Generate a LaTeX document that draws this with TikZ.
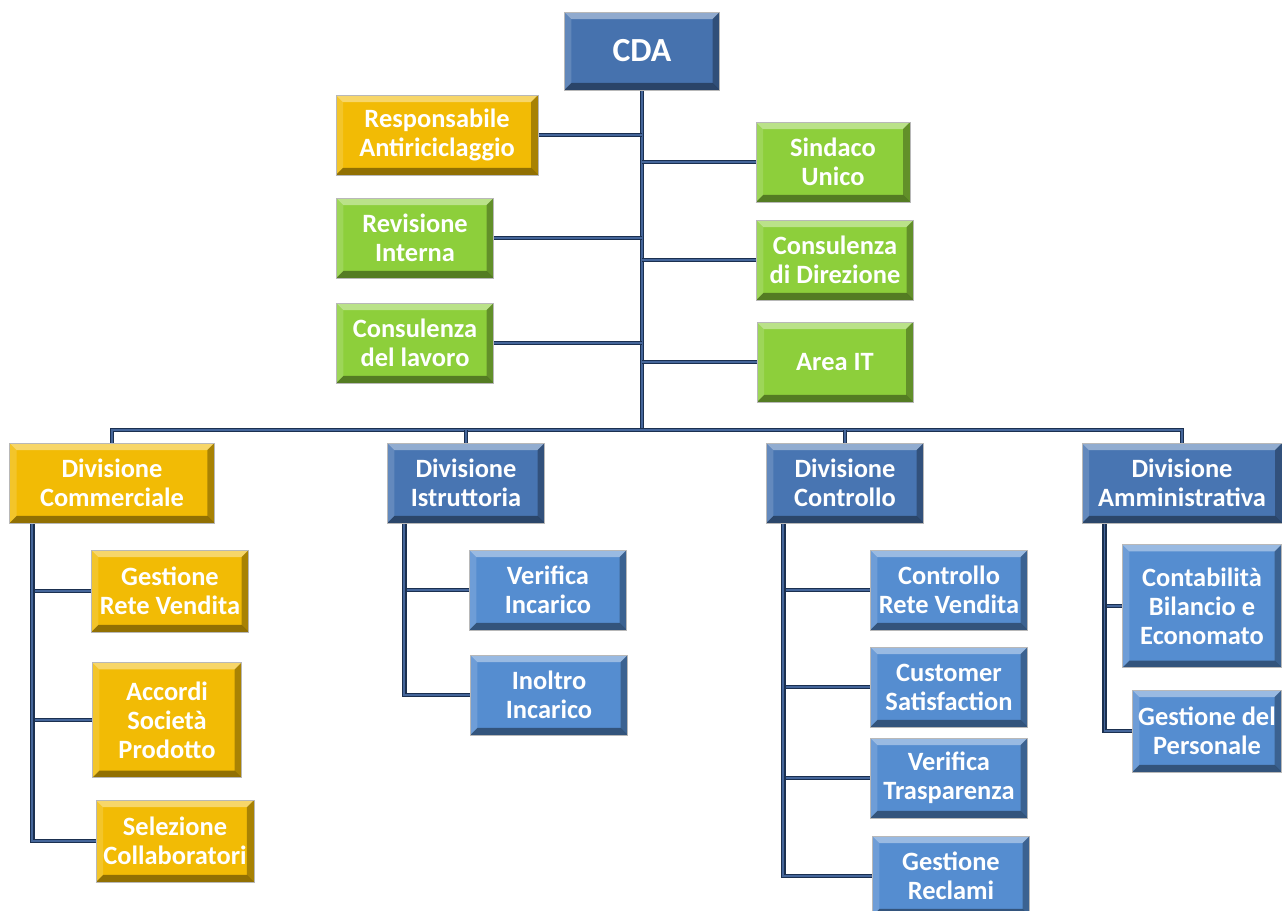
\documentclass[tikz,border=0pt]{standalone}
\usepackage{fontspec}
\setmainfont{Carlito}
\usetikzlibrary{positioning, backgrounds}

\definecolor{cdablue}{HTML}{4672AE}
\definecolor{divblue}{HTML}{4875B2}
\definecolor{subblue}{HTML}{558DD0}
\definecolor{gold}{HTML}{F2BB05}
\definecolor{lime}{HTML}{8DCF3B}
\definecolor{navy}{HTML}{1B3050}
\definecolor{steel}{HTML}{45669A}

\begin{document}
\begin{tikzpicture}[
    x=0.025cm, y=-0.025cm,
    font=\bfseries\fontsize{18.8}{20.6}\selectfont,
    box/.style={
        rectangle, draw=black!28, line width=0.6pt, text=white,
        minimum width=3.93cm, minimum height=2cm,
        align=center, inner sep=2pt, outer sep=0pt,
        path picture={
            \fill[white, opacity=0.4] (path picture bounding box.north west)
                -- (path picture bounding box.north east)
                -- ([shift={(-5pt,-5pt)}]path picture bounding box.north east)
                -- ([shift={(5pt,-5pt)}]path picture bounding box.north west) -- cycle;
            \fill[white, opacity=0.15] (path picture bounding box.north west)
                -- (path picture bounding box.south west)
                -- ([shift={(5pt,5pt)}]path picture bounding box.south west)
                -- ([shift={(5pt,-5pt)}]path picture bounding box.north west) -- cycle;
            \fill[black, opacity=0.3] (path picture bounding box.north east)
                -- (path picture bounding box.south east)
                -- ([shift={(-5pt,5pt)}]path picture bounding box.south east)
                -- ([shift={(-5pt,-5pt)}]path picture bounding box.north east) -- cycle;
            \fill[black, opacity=0.4] (path picture bounding box.south west)
                -- (path picture bounding box.south east)
                -- ([shift={(-5pt,5pt)}]path picture bounding box.south east)
                -- ([shift={(5pt,5pt)}]path picture bounding box.south west) -- cycle;
        },
    },
    head/.style={box, fill=cdablue, font=\bfseries\fontsize{24}{28}\selectfont,
        minimum width=3.88cm, minimum height=1.95cm},
    staffy/.style={box, fill=gold},
    staffg/.style={box, fill=lime},
    division/.style={box, fill=divblue},
    divisiony/.style={box, fill=gold},
    unit/.style={box, fill=subblue},
    unity/.style={box, fill=gold},
    wire/.style={draw=navy, line width=1.1pt, double=steel, double distance=1.3pt},
]
\useasboundingbox (0,0) rectangle (1282,910);

% --- vertice ---
\node[head] (cda) at (642,51) {CDA};

% --- staff ---
\node[staffy, minimum width=5.05cm] (resp) at (437,135) {Responsabile\\Antiriciclaggio};
\node[staffg] (rev) at (415,238) {Revisione\\Interna};
\node[staffg] (lav) at (415,343) {Consulenza\\del lavoro};
\node[staffg, minimum width=3.85cm] (sind) at (833,162) {Sindaco\\Unico};
\node[staffg] (dir) at (835,260) {Consulenza\\di Direzione};
\node[staffg, minimum width=3.9cm] (it) at (835,362) {Area IT};

% --- divisioni ---
\node[divisiony, minimum width=5.12cm] (comm) at (112,483) {Divisione\\Commerciale};
\node[division] (istr) at (466,483) {Divisione\\Istruttoria};
\node[division] (ctrl) at (845,483) {Divisione\\Controllo};
\node[division, minimum width=5cm] (amm) at (1182,483) {Divisione\\Amministrativa};

% --- uffici ---
\node[unity, minimum height=2.05cm] (grv) at (170,591) {Gestione\\Rete Vendita};
\node[unity, minimum width=3.73cm, minimum height=2.88cm] (acc) at (167,720) {Accordi\\Società\\Prodotto};
\node[unity, minimum width=3.95cm, minimum height=2.05cm] (sel) at (175,841) {Selezione\\Collaboratori};
\node[unit] (ver) at (548,590) {Verifica\\Incarico};
\node[unit] (ino) at (549,695) {Inoltro\\Incarico};
\node[unit] (crv) at (949,590) {Controllo\\Rete Vendita};
\node[unit] (cs) at (949,687) {Customer\\Satisfaction};
\node[unit] (vt) at (949,778) {Verifica\\Trasparenza};
\node[unit] (gr) at (951,876) {Gestione\\Reclami};
\node[unit, minimum width=3.98cm, minimum height=3.08cm] (cbe) at (1202,606) {Contabilità\\Bilancio e\\Economato};
\node[unit, minimum width=3.73cm, minimum height=2.05cm] (gp) at (1207,731) {Gestione del\\Personale};

% --- collegamenti ---
\begin{scope}[on background layer]
\coordinate (bus) at (642,430);
\draw[wire] (cda.south) -- (cda.south |- bus);
\draw[wire] (comm.north) -- (comm.north |- bus) -- (amm.north |- bus) -- (amm.north);
\foreach \d in {istr, ctrl}
    \draw[wire] (\d.north) -- (\d.north |- bus);
\foreach \s/\a in {resp/east, rev/east, lav/east, sind/west, dir/west, it/west}
    \draw[wire] (\s.\a) -- (\s.\a -| cda.south);
\foreach \d/\dx/\s in {comm/16/grv, comm/16/acc, comm/16/sel,
    istr/12/ver, istr/12/ino,
    ctrl/12/crv, ctrl/12/cs, ctrl/12/vt, ctrl/12/gr,
    amm/16/cbe, amm/16/gp}
    \draw[wire] ([xshift=\dx pt]\d.south west) |- (\s.west);
\end{scope}

\end{tikzpicture}
\end{document}
